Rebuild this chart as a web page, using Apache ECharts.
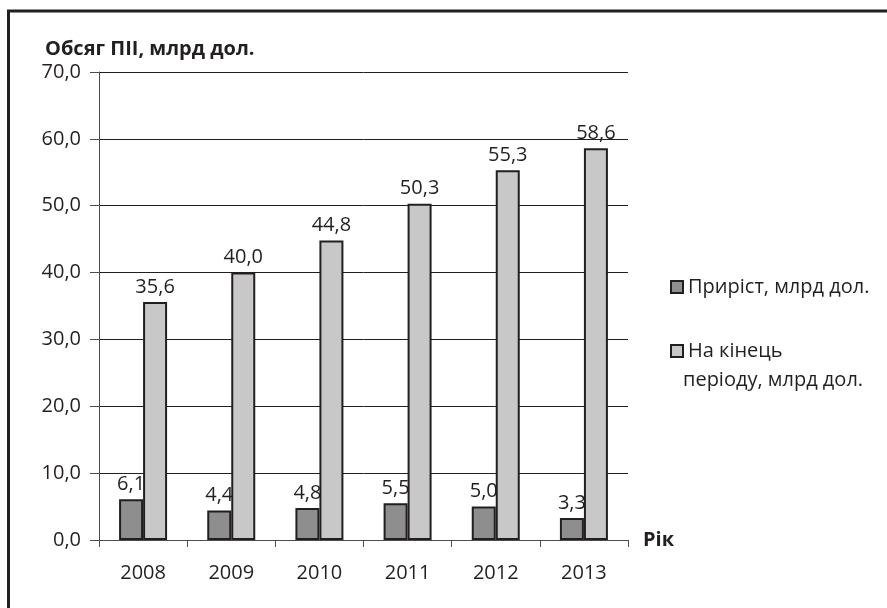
<!DOCTYPE html>
<html>
<head>
<meta charset="utf-8">
<script src="https://cdn.jsdelivr.net/npm/echarts@6/dist/echarts.min.js"></script>
<style>
  html, body { margin: 0; padding: 0; background: #fff; }
  #main { width: 887px; height: 608px; }
</style>
</head>
<body>
<div id="main"></div>
<script>
// дані з графіка
const years = ['2008', '2009', '2010', '2011', '2012', '2013']
const growth = [6.1, 4.4, 4.8, 5.5, 5.0, 3.3]
const endOfPeriod = [35.6, 40.0, 44.8, 50.3, 55.3, 58.6]
const growthName = 'Приріст, млрд дол.'
const endName = 'На кінець періоду, млрд дол.'

const font = '"Open Sans", "Noto Sans", sans-serif'
const fmt = v => v.toFixed(1).replace('.', ',')

var myChart = echarts.init(document.getElementById('main'))

const labelStyle = {
    show: true,
    position: 'top',
    distance: 5,
    fontFamily: font,
    fontSize: 20,
    color: '#231f20',
    formatter: p => fmt(p.value)
}
const legendText = { fontFamily: font, fontSize: 20, color: '#231f20' }

var option = {
    animation: false,
    backgroundColor: '#fff',
    textStyle: { fontFamily: font },
    title: {
        text: 'Обсяг ПІІ, млрд дол.',
        left: 40,
        top: 34,
        textStyle: { fontFamily: font, fontSize: 20, fontWeight: 'bold', color: '#231f20' }
    },
    legend: [{
        orient: 'vertical',
        left: 665,
        top: 272,
        icon: 'rect',
        itemWidth: 12,
        itemHeight: 12,
        itemGap: 6,
        data: [growthName],
        textStyle: legendText
    }, {
        orient: 'vertical',
        left: 665,
        top: 336,
        icon: 'rect',
        itemWidth: 12,
        itemHeight: 12,
        data: [endName],
        formatter: () => 'На кінець',
        textStyle: legendText
    }],
    graphic: [
        { type: 'line', shape: { x1: 7, y1: 11, x2: 887, y2: 11 }, style: { stroke: '#231f20', lineWidth: 3 } },
        { type: 'line', shape: { x1: 8.5, y1: 10, x2: 8.5, y2: 608 }, style: { stroke: '#231f20', lineWidth: 3 } },
        // другий рядок підпису легенди
        { type: 'text', left: 683, top: 370, style: { text: 'періоду, млрд дол.', font: '20px ' + font, fill: '#231f20' } }
    ],
    grid: {
        left: 99,
        right: 259,
        top: 72,
        bottom: 68
    },
    xAxis: {
        type: 'category',
        data: years,
        name: 'Рік',
        nameLocation: 'end',
        nameGap: 15,
        nameTextStyle: { fontFamily: font, fontSize: 20, fontWeight: 'bold', color: '#231f20', padding: [14, 0, 0, 0] },
        axisLine: { lineStyle: { color: '#4d4d4d', width: 1 } },
        axisTick: { show: true, length: 7, lineStyle: { color: '#4d4d4d' } },
        axisLabel: { fontFamily: font, fontSize: 20, color: '#231f20', margin: 23 }
    },
    yAxis: {
        type: 'value',
        min: 0,
        max: 70,
        interval: 10,
        axisLine: { show: true, lineStyle: { color: '#4d4d4d', width: 1 } },
        axisTick: { show: true, length: 9, lineStyle: { color: '#4d4d4d' } },
        axisLabel: { fontFamily: font, fontSize: 20, color: '#231f20', margin: 18, formatter: v => fmt(v) },
        splitLine: { lineStyle: { color: '#231f20', width: 1 } }
    },
    series: [{
        name: growthName,
        type: 'bar',
        data: growth,
        barWidth: 24,
        barGap: '0%',
        itemStyle: { color: '#8e8e8e', borderColor: '#231f20', borderWidth: 2 },
        label: labelStyle
    }, {
        name: endName,
        type: 'bar',
        data: endOfPeriod,
        barWidth: 24,
        itemStyle: { color: '#c8c8c8', borderColor: '#231f20', borderWidth: 2 },
        label: labelStyle
    }]
}
myChart.setOption(option)
</script>
</body>
</html>
